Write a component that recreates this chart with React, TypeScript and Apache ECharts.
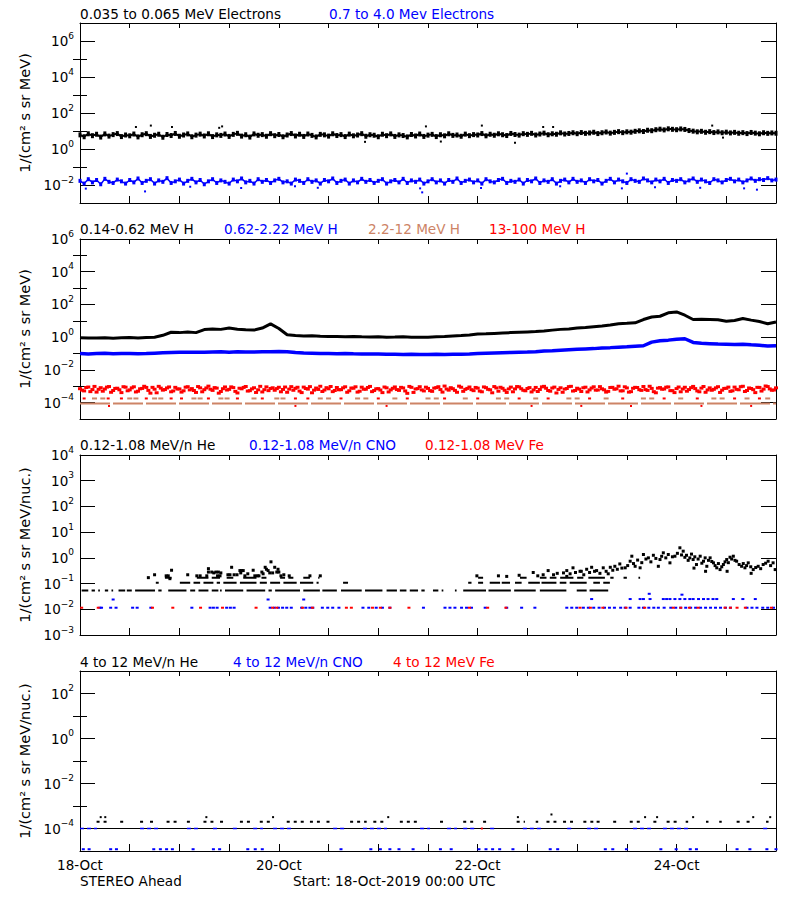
import React, { useEffect, useRef } from 'react';
import * as echarts from 'echarts';

const FONT = 'DejaVu Sans';
const BLACK = '#000000';
const BLUE = '#0000ff';
const RED = '#ff0000';
const BROWN = '#cd8466';

// ---------- x axis (hours since 18-Oct-2019 00:00 UTC) ----------
const xTickHours = [0, 48, 96, 144];
const xTickLabels = ['18-Oct', '20-Oct', '22-Oct', '24-Oct'];

// ---------- Panel 1: electrons (hourly) ----------
const elecLowFlux = [
  6.1, 4.8, 7.0, 5.5, 6.6, 4.6, 6.9, 5.2, 6.3, 7.2, 4.9, 6.0,
  5.4, 6.8, 4.7, 6.2, 7.1, 5.0, 5.8, 6.6, 4.5, 6.4, 5.6, 7.3,
  5.1, 6.0, 6.9, 4.8, 5.9, 6.7, 5.3, 7.0, 4.9, 6.1, 5.7, 6.8,
  5.0, 6.5, 7.4, 5.2, 6.2, 4.6, 6.9, 5.8, 6.3, 5.1, 7.1, 5.5,
  6.4, 4.8, 6.0, 7.2, 5.3, 6.6, 5.0, 6.8, 5.7, 4.7, 6.5, 6.1,
  5.2, 7.0, 5.6, 6.3, 4.9, 6.7, 5.4, 6.0, 7.1, 5.1, 6.2, 5.8,
  4.8, 6.6, 5.5, 6.9, 5.0, 6.1, 5.6, 4.7, 6.4, 5.3, 6.8, 5.0,
  5.9, 6.5, 4.9, 6.2, 5.4, 7.0, 5.7, 6.0, 5.1, 6.7, 5.5, 6.3,
  6.0, 7.2, 5.4, 6.6, 5.8, 7.0, 6.2, 5.6, 7.3, 6.4, 5.9, 7.1,
  6.5, 7.4, 6.0, 6.8, 7.6, 6.2, 7.0, 6.6, 7.9, 6.8, 7.3, 8.0,
  7.1, 8.2, 7.4, 7.8, 8.5, 7.2, 8.0, 8.8, 7.6, 8.4, 9.2, 8.1,
  9.0, 8.6, 9.6, 10.2, 9.4, 11.0, 10.4, 11.8, 12.6, 11.5, 13.2, 12.4,
  11.8, 13.0, 12.2, 10.6, 9.8, 9.0, 9.6, 8.5, 9.2, 8.2, 8.9, 8.0,
  8.6, 7.8, 8.4, 7.5, 8.1, 7.2, 8.3, 7.6, 7.0, 8.0, 7.4, 7.8,
  7.5,
];
const elecHighFlux = [
  0.017, 0.012, 0.021, 0.014, 0.019, 0.011, 0.022, 0.015, 0.013, 0.020, 0.016, 0.012,
  0.019, 0.014, 0.023, 0.013, 0.017, 0.021, 0.012, 0.018, 0.015, 0.024, 0.013, 0.016,
  0.020, 0.012, 0.017, 0.022, 0.014, 0.019, 0.011, 0.016, 0.021, 0.013, 0.018, 0.015,
  0.012, 0.020, 0.016, 0.023, 0.014, 0.017, 0.012, 0.021, 0.015, 0.019, 0.013, 0.018,
  0.022, 0.014, 0.016, 0.012, 0.020, 0.017, 0.013, 0.021, 0.015, 0.018, 0.012, 0.019,
  0.016, 0.023, 0.013, 0.017, 0.020, 0.012, 0.018, 0.014, 0.022, 0.015, 0.019, 0.013,
  0.017, 0.021, 0.012, 0.016, 0.019, 0.014, 0.022, 0.013, 0.018, 0.015, 0.020, 0.012,
  0.016, 0.021, 0.014, 0.018, 0.012, 0.019, 0.015, 0.023, 0.013, 0.017, 0.020, 0.014,
  0.018, 0.012, 0.021, 0.016, 0.014, 0.019, 0.022, 0.013, 0.017, 0.015, 0.020, 0.012,
  0.019, 0.016, 0.023, 0.013, 0.018, 0.015, 0.021, 0.012, 0.017, 0.020, 0.014, 0.022,
  0.015, 0.018, 0.013, 0.021, 0.016, 0.019, 0.012, 0.017, 0.022, 0.014, 0.020, 0.016,
  0.013, 0.021, 0.017, 0.015, 0.023, 0.018, 0.014, 0.020, 0.016, 0.022, 0.013, 0.019,
  0.017, 0.021, 0.014, 0.018, 0.023, 0.015, 0.020, 0.016, 0.013, 0.021, 0.018, 0.014,
  0.019, 0.022, 0.016, 0.020, 0.014, 0.018, 0.023, 0.017, 0.021, 0.019, 0.024, 0.018,
  0.020,
];
const elecLowOutHours = [13.5, 17.1, 22.2, 33.6, 34.3, 68.8, 83.5, 87.1, 97, 105, 111.8, 114.2, 152.6, 155.2];
const elecLowOutFlux = [16.7, 20, 16.7, 15, 18, 2.5, 18, 2.6, 20, 2.2, 16.7, 16.7, 20, 4.3];
const elecHighOutHours = [1.4, 15.7, 26.6, 38.9, 51.9, 57.4, 82.1, 82.6, 96.8, 115.9, 130.8, 132, 138.8, 149.7, 160.3, 163.4];
const elecHighOutFlux = [0.0063, 0.0044, 0.008, 0.0068, 0.0085, 0.007, 0.0065, 0.0039, 0.0068, 0.0085, 0.0065, 0.043, 0.0075, 0.007, 0.0065, 0.0055];

// ---------- Panel 2: protons ----------
// 2-hourly
const hLowFlux = [
  0.92, 0.88, 0.90, 0.93, 0.87, 0.91, 0.95, 0.90, 0.97, 1.0,
  1.3, 2.0, 1.9, 2.1, 1.9, 2.9, 3.2, 3.0, 3.6, 3.1,
  2.8, 2.7, 3.6, 6.5, 3.4, 1.4, 1.25, 1.2, 1.22, 1.15,
  1.12, 1.1, 1.08, 1.1, 1.05, 1.02, 1.05, 1.0, 1.02, 1.05,
  1.0, 0.98, 1.0, 1.05, 1.1, 1.2, 1.25, 1.35, 1.55, 1.6,
  1.7, 1.8, 1.9, 2.0, 2.1, 2.2, 2.4, 2.7, 3.0, 3.2,
  3.6, 3.9, 4.4, 4.9, 5.5, 6.6, 7.0, 7.5, 12, 17,
  19, 31, 35, 22, 12, 12.5, 12, 11.5, 9.5, 10.5,
  13.8, 11, 9, 6.6, 8.5,
];
const hMidFlux = [
  0.100, 0.095, 0.100, 0.105, 0.098, 0.100, 0.102, 0.097, 0.100, 0.105,
  0.110, 0.115, 0.120, 0.118, 0.122, 0.120, 0.125, 0.128, 0.122, 0.130,
  0.126, 0.124, 0.128, 0.130, 0.132, 0.128, 0.115, 0.108, 0.105, 0.100,
  0.102, 0.098, 0.100, 0.097, 0.095, 0.093, 0.095, 0.092, 0.090, 0.088,
  0.090, 0.088, 0.087, 0.089, 0.088, 0.090, 0.092, 0.095, 0.100, 0.104,
  0.108, 0.112, 0.115, 0.120, 0.124, 0.130, 0.145, 0.150, 0.160, 0.170,
  0.180, 0.190, 0.200, 0.220, 0.230, 0.245, 0.260, 0.280, 0.300, 0.500,
  0.600, 0.660, 0.750, 0.800, 0.480, 0.420, 0.400, 0.380, 0.370, 0.360,
  0.370, 0.340, 0.320, 0.290, 0.300,
];
// hourly (on the hour)
const hHighFlux = [
  7.1e-4, 5.2e-4, 9.0e-4, 6.3e-4, 4.4e-4, 8.2e-4, 6.8e-4, 9.6e-4, 5.5e-4, 7.6e-4, 4.1e-4, 8.8e-4,
  6.0e-4, 9.3e-4, 5.0e-4, 7.4e-4, 8.5e-4, 3.8e-4, 6.6e-4, 9.9e-4, 5.8e-4, 7.9e-4, 4.6e-4, 8.6e-4,
  6.9e-4, 5.3e-4, 9.4e-4, 7.2e-4, 4.2e-4, 8.0e-4, 6.2e-4, 1.02e-3, 5.6e-4, 7.7e-4, 4.8e-4, 9.1e-4,
  6.5e-4, 8.3e-4, 3.9e-4, 7.0e-4, 9.7e-4, 5.4e-4, 8.1e-4, 6.1e-4, 4.5e-4, 9.2e-4, 7.3e-4, 5.7e-4,
  8.7e-4, 6.4e-4, 4.3e-4, 9.5e-4, 7.5e-4, 5.1e-4, 8.9e-4, 6.7e-4, 4.0e-4, 7.8e-4, 1.0e-3, 5.9e-4,
  7.0e-4, 4.7e-4, 8.4e-4, 6.2e-4, 9.3e-4, 5.3e-4, 7.6e-4, 4.4e-4, 8.8e-4, 6.6e-4, 9.8e-4, 5.5e-4,
  7.2e-4, 4.1e-4, 8.0e-4, 6.0e-4, 9.1e-4, 5.6e-4, 7.9e-4, 3.7e-4, 8.6e-4, 6.8e-4, 9.4e-4, 5.2e-4,
  7.4e-4, 4.9e-4, 8.3e-4, 6.3e-4, 1.03e-3, 5.8e-4, 7.1e-4, 4.3e-4, 8.7e-4, 6.5e-4, 9.0e-4, 5.4e-4,
  7.7e-4, 4.6e-4, 8.2e-4, 6.1e-4, 9.6e-4, 5.0e-4, 7.5e-4, 4.2e-4, 8.9e-4, 6.9e-4, 9.2e-4, 5.7e-4,
  7.3e-4, 4.5e-4, 8.5e-4, 6.4e-4, 9.9e-4, 5.5e-4, 7.8e-4, 3.9e-4, 8.1e-4, 6.7e-4, 9.5e-4, 5.1e-4,
  7.6e-4, 4.8e-4, 8.8e-4, 6.0e-4, 9.3e-4, 5.9e-4, 7.0e-4, 4.4e-4, 8.4e-4, 6.6e-4, 1.01e-3, 5.3e-4,
  7.9e-4, 4.7e-4, 8.6e-4, 6.2e-4, 9.7e-4, 5.6e-4, 7.4e-4, 4.0e-4, 8.3e-4, 6.8e-4, 9.1e-4, 5.4e-4,
  7.2e-4, 4.6e-4, 8.7e-4, 6.3e-4, 9.8e-4, 5.2e-4, 7.7e-4, 4.3e-4, 8.0e-4, 6.5e-4, 9.4e-4, 5.8e-4,
  7.5e-4, 4.9e-4, 8.9e-4, 6.1e-4, 1.0e-3, 5.5e-4, 7.3e-4, 4.1e-4, 8.5e-4, 6.7e-4, 9.6e-4, 5.7e-4,
  8.0e-4,
];
// hourly (on the half hour)
const hHighFluxHalf = [
  5.8e-4, 8.4e-4, 4.7e-4, 9.8e-4, 6.5e-4, 5.0e-4, 8.9e-4, 4.3e-4, 7.4e-4, 6.1e-4, 9.4e-4, 5.3e-4,
  8.0e-4, 4.5e-4, 7.0e-4, 1.0e-3, 5.6e-4, 8.6e-4, 4.0e-4, 7.7e-4, 6.3e-4, 9.1e-4, 5.2e-4, 6.8e-4,
  4.4e-4, 8.8e-4, 6.0e-4, 5.5e-4, 9.6e-4, 4.6e-4, 7.9e-4, 6.6e-4, 8.3e-4, 3.8e-4, 7.1e-4, 5.9e-4,
  9.2e-4, 4.9e-4, 7.6e-4, 8.5e-4, 5.1e-4, 6.9e-4, 4.2e-4, 9.9e-4, 6.2e-4, 5.4e-4, 8.1e-4, 7.2e-4,
  4.6e-4, 9.0e-4, 6.7e-4, 5.7e-4, 8.7e-4, 4.1e-4, 7.3e-4, 9.5e-4, 5.8e-4, 6.4e-4, 4.8e-4, 8.2e-4,
  9.7e-4, 5.5e-4, 6.1e-4, 8.0e-4, 4.3e-4, 7.8e-4, 9.3e-4, 5.0e-4, 6.6e-4, 8.4e-4, 4.7e-4, 7.0e-4,
  5.9e-4, 9.0e-4, 4.5e-4, 7.5e-4, 6.3e-4, 8.6e-4, 5.2e-4, 9.8e-4, 4.2e-4, 7.2e-4, 6.0e-4, 8.8e-4,
  5.4e-4, 7.7e-4, 9.4e-4, 4.4e-4, 6.8e-4, 8.2e-4, 5.6e-4, 1.02e-3, 4.9e-4, 7.4e-4, 6.2e-4, 8.5e-4,
  5.1e-4, 9.1e-4, 6.5e-4, 4.0e-4, 7.9e-4, 8.7e-4, 5.7e-4, 6.9e-4, 4.6e-4, 9.6e-4, 7.1e-4, 5.3e-4,
  8.3e-4, 6.0e-4, 4.8e-4, 9.2e-4, 7.6e-4, 5.0e-4, 8.9e-4, 6.4e-4, 4.3e-4, 7.3e-4, 9.9e-4, 5.5e-4,
  6.7e-4, 8.1e-4, 4.5e-4, 7.8e-4, 5.8e-4, 9.5e-4, 6.1e-4, 4.9e-4, 8.6e-4, 7.0e-4, 5.2e-4, 9.3e-4,
  4.4e-4, 7.5e-4, 8.4e-4, 5.6e-4, 6.3e-4, 1.0e-3, 4.7e-4, 7.7e-4, 6.6e-4, 8.8e-4, 5.4e-4, 4.1e-4,
  9.0e-4, 6.8e-4, 5.0e-4, 8.2e-4, 7.2e-4, 4.6e-4, 9.7e-4, 6.0e-4, 5.7e-4, 8.0e-4, 4.2e-4, 7.4e-4,
  8.9e-4, 5.3e-4, 6.5e-4, 9.4e-4, 4.8e-4, 7.9e-4, 6.2e-4, 8.6e-4, 5.1e-4, 1.04e-3, 6.9e-4, 5.9e-4,
];
const hVeryHighLevel = 8.9e-5; // 2.2-12 MeV H main count level
const hVeryHighSegs = [[0, 168]];
const hMidRowLevel = 1.8e-4;
const brownMidHours = [3.5, 5.5, 12, 13.5, 18, 19.5, 27.5, 29, 34, 35.5, 42, 47.5, 49, 58, 60, 67, 69, 76, 84, 86, 93, 101, 103, 110, 118, 120, 127, 136, 138, 145, 153, 155, 161, 166];
const redMidHours = [1, 6.8, 10, 16, 22, 24.5, 31, 38, 44, 52, 55, 63, 72, 79, 88, 96, 106, 113, 123, 131, 141, 149, 158, 164];
const redLowLevel = 6.3e-5;
const redLowHours = [7, 52, 74, 109, 121, 133, 150, 162];

// ---------- Panel 3: 0.12-1.08 MeV/n ions ----------
const heBaseLevel = 0.054;
const heBaseSegs = [[0.4, 2.0], [2.8, 3.6], [4.4, 4.8], [6.0, 6.8], [7.6, 8.0], [9.3, 10.9], [11.3, 12.5], [13.3, 18.1], [18.9, 19.7], [21.3, 25.7], [26.6, 27.8], [28.6, 31.0], [31.8, 33.4], [33.8, 34.2], [35.0, 39.4], [40.2, 44.7], [45.5, 46.3], [47.1, 53.1], [53.9, 57.9], [58.5, 62.0], [63.0, 68.0], [68.8, 73.0], [74.0, 76.5], [77.2, 78.8], [79.6, 81.6], [82.4, 83.2], [85.2, 86.5], [87.3, 87.7], [90.5, 90.9], [92.5, 98.0], [98.6, 104.0], [104.8, 110.0], [111.0, 117.4], [119.9, 122.3], [123.0, 127.5]];
const heRow2Level = 0.108;
const heRow2Segs = [[18.3, 19.0], [24.1, 26.6], [27.4, 29.0], [29.8, 32.2], [33.0, 33.8], [34.6, 37.8], [38.6, 42.6], [43.4, 45.1], [45.9, 48.3], [49.1, 52.3], [53.1, 56.3], [57.1, 57.6], [63.5, 64.7], [93.7, 94.5], [96.1, 97.3], [98.9, 101.4], [101.8, 103.8], [105.0, 106.6], [108.2, 111.0], [111.4, 115.0], [115.8, 117.4], [118.2, 122.3], [123.9, 125.5], [126.3, 127.9]];
const heRow3Level = 0.17;
const heRow3Segs = [[20.5, 22.1], [28.2, 31.0], [31.8, 33.8], [35.4, 37.0], [39.4, 42.6], [43.8, 45.0], [48.3, 49.5], [50.3, 51.5], [53.9, 55.5], [57.5, 57.8], [96.1, 97.3], [106.2, 107.8], [111.0, 112.6], [113.4, 115.0], [115.9, 119.1], [120.0, 121.5], [122.7, 126.7], [128.0, 128.8], [131.2, 132.0], [134.8, 135.2]];
const heCloudHours = [
  16.5, 18.0, 20.8, 21.3, 21.7, 22.1, 26.0, 28.2, 29.0, 30.6, 31.0, 31.0, 31.8, 32.3, 32.8, 33.2, 33.4, 33.8, 34.0,
  35.7, 36.2, 36.6, 37.2, 37.9, 38.6, 38.8, 39.0, 39.4, 39.8, 40.5, 41.8, 42.2, 42.8, 43.2, 43.9, 44.2, 44.7, 45.0,
  45.4, 45.8, 46.1, 46.5, 47.0, 47.5, 47.8, 48.0, 48.5, 49.2, 50.5, 55.5, 58.0,
  95.8, 101, 103, 106, 109.4, 110.5, 111.8, 113, 114.3, 115.2, 116.7, 117.5, 117.5, 118.3, 119, 119.6, 120.7, 121,
  121.6, 122.3, 123, 123.5, 124.2, 124.7, 125.5, 126.3, 127, 127.5, 128, 128.6, 129.1, 129.7, 130.3, 130.8, 131.6,
  132.2, 132.8, 133.2, 133.6, 134, 134.6, 135.2, 135.6, 136, 136.6, 137.2, 137.8, 138.4, 139, 139.6, 140, 140.4,
  140.8, 141.4, 142, 142.4, 143, 143.6, 144.2, 144.8, 145.2, 145.6, 146, 146.4, 146.8, 147.2, 147.6, 148, 148.4,
  148.8, 149.2, 149.7, 150.1, 150.5, 150.9, 151.3, 151.7, 152.1, 152.5, 152.9, 153.3, 153.7, 154.1, 154.5, 154.9,
  155.3, 155.7, 156.1, 156.5, 156.9, 157.3, 157.7, 158.1, 158.5, 159.1, 159.7, 160.1, 160.5, 160.9, 161.3, 161.9,
  162.5, 163.1, 163.7, 164.3, 164.9, 165.5, 166.1, 166.7, 167.3, 167.8, 156.2, 151, 148.2, 162,
];
const heCloudFlux = [
  0.17, 0.22, 0.2, 0.2, 0.155, 0.33, 0.22, 0.2, 0.2, 0.2, 0.38, 0.28, 0.28, 0.26, 0.28, 0.2, 0.28, 0.2, 0.26,
  0.22, 0.22, 0.43, 0.22, 0.22, 0.32, 0.26, 0.32, 0.32, 0.2, 0.24, 0.33, 0.2, 0.2, 0.2, 0.28, 0.24, 0.43, 0.36,
  0.32, 0.26, 0.7, 0.26, 0.43, 0.28, 0.36, 0.28, 0.2, 0.22, 0.2, 0.2, 0.2,
  0.2, 0.2, 0.19, 0.21, 0.27, 0.2, 0.22, 0.32, 0.22, 0.25, 0.26, 0.32, 0.19, 0.24, 0.41, 0.27, 0.3, 0.3,
  0.22, 0.36, 0.27, 0.43, 0.3, 0.32, 0.25, 0.41, 0.3, 0.24, 0.43, 0.33, 0.47, 0.36, 0.58, 0.4, 0.41,
  0.5, 0.74, 1.16, 0.6, 0.47, 0.82, 0.41, 0.65, 1.35, 0.9, 1.0, 0.7, 1.26, 0.95, 0.47, 0.86, 1.15,
  1.57, 1.0, 1.35, 0.64, 1.1, 1.16, 1.5, 2.46, 1.3, 1.82, 1.05, 1.26, 0.8, 1.0, 1.4, 0.86, 1.1,
  0.55, 0.9, 1.16, 0.62, 0.74, 1.0, 0.47, 0.8, 1.0, 0.72, 0.64, 0.5, 0.41, 0.6, 0.35, 0.45,
  0.55, 0.7, 0.86, 0.65, 1.06, 0.9, 1.16, 0.8, 0.74, 0.55, 0.47, 0.6, 0.41, 0.5, 0.64, 0.45,
  0.35, 0.42, 0.47, 0.38, 0.55, 0.62, 0.74, 0.5, 0.64, 0.35, 0.3, 0.3, 0.4, 0.25,
];
const cnoRowLevel = 0.0115;
const cnoRowHours = [
  4.8, 5.2, 7.4, 8.7, 12.7, 13.8, 17.1, 27, 31.4, 32.2, 33.1, 35.4, 36.3, 37.2, 45.9, 46.9, 47.9, 48.9, 49.9, 51,
  53.5, 54.5, 55.5, 56.2, 58.5, 59.8, 61, 62.5, 68.3, 69.7, 71.5, 73, 74.8, 82.9, 88.1, 89.3, 90.5, 92.1, 93.3, 94.5,
  97.8, 103, 106.6, 109.8, 117.5, 118.7, 119.9, 121.5, 122.7, 124, 125.3, 126.6, 127.8, 129, 130.5, 131.6, 132.8,
  134.9, 136, 137.3, 138.5, 139.6, 141, 142.6, 143.8, 145, 146.2, 147.4, 148.6, 149.8, 151, 152.2, 153.4, 154.6,
  155.8, 157, 161, 162.2, 163.4, 164.8, 166, 167.4,
];
const feRowHours = [0.4, 4.4, 17.5, 22.4, 29.1, 34.4, 42.5, 46.5, 47.5, 53.7, 56.1, 64.3, 65.5, 70.6, 72.5, 74.8, 79.4, 94, 98.4, 102.8, 120.7, 123.2, 126.2, 131.8, 136.3, 143.2, 145, 147.1, 149.2, 155.7, 157, 158.6, 160.6, 166.9];
const cnoUpperHours = [8, 45.4, 54, 123.5, 132.8, 135.2, 136, 137.6, 140.8, 141.6, 142.4, 143.6, 144.8, 146, 147.2, 148, 149.3, 150.5, 151.6, 152.8, 153.7, 157.7, 160, 163, 137.4, 145.3];
const cnoUpperFlux = [0.024, 0.024, 0.024, 0.025, 0.025, 0.025, 0.025, 0.025, 0.025, 0.025, 0.025, 0.025, 0.025, 0.025, 0.025, 0.025, 0.025, 0.025, 0.025, 0.025, 0.025, 0.025, 0.025, 0.025, 0.04, 0.037];

// ---------- Panel 4: 4-12 MeV/n ions ----------
const hiLineLevel = 1e-4;
const hiHeLineSegs = [[0, 164.5]];
const hiCnoLineSegs = [[0, 4.1], [14.5, 19.3], [25.8, 29], [32.1, 33.8], [36.9, 38.6], [41.8, 44.2], [46.6, 51.4], [61.1, 64.5], [68.3, 74.1], [82.1, 84.5], [88.6, 91], [92.5, 95.8], [99, 100.7], [106.9, 111.8], [117.6, 119], [122.4, 125.5], [133.5, 138.3], [140.7, 147.2], [164.9, 166.6]];
const hiHeDotLevel = 2e-4;
const hiHeDotSegs = [[4, 7.2], [9.7, 11.3], [14.5, 16.1], [16.9, 18.5], [20.9, 24.1], [25.8, 27.4], [29.8, 32.2], [33.8, 35.4], [38.6, 41.8], [43.4, 46.7], [49.9, 54.7], [55.5, 57.9], [59.5, 61.1], [65.2, 69.2], [70.8, 74], [77.2, 82], [86.9, 88.5], [92.5, 94.9], [97.3, 98.9], [105.4, 107.4], [110, 110.6], [112.6, 115], [116.6, 119], [121.5, 123.9], [124.7, 126.3], [128.7, 130.3], [132.7, 135.2], [138.4, 140], [141.6, 144.8], [146.2, 146.8], [151.1, 151.7], [154.3, 154.9], [158.5, 160.1], [160.9, 162.5], [165.6, 166.2]];
const hiHeUpperHours = [5, 6.1, 30.5, 46.6, 74.4, 105.7, 113.8, 136.4, 139.3, 148, 162.5, 166.6];
const hiHeUpperFlux = [3.2e-4, 3.2e-4, 3.2e-4, 3.2e-4, 3.2e-4, 3.2e-4, 4.2e-4, 3.2e-4, 3.2e-4, 3.2e-4, 3.2e-4, 3.2e-4];
const hiCnoLowLevel = 1.2e-5;
const hiCnoLowHours = [0.8, 2.2, 7.4, 8.8, 17.8, 19.4, 20.9, 22.3, 27.3, 32.2, 33.7, 40.5, 42.3, 44, 63, 70.2, 72.5, 74.8, 77, 80.4, 87, 89.6, 96.3, 98, 99.6, 101.3, 104.5, 113.5, 115.3, 126.8, 128.6, 131.9, 140.2, 143.9, 147.3, 148.8, 158.6, 161.7, 165.8, 168];
const hiFeHours = [97];

// ---------- panel layout ----------
const panelTops = [23, 239, 455, 671];
const yRanges = [[-3, 7], [-5, 6], [-3, 4], [-5, 3]];
const majorExp = [[-2, 0, 2, 4, 6], [-4, -2, 0, 2, 4, 6], [-3, -2, -1, 0, 1, 2, 3, 4], [-4, -2, 0, 2]];
const minorExp = [[-1, 1, 3, 5], [-3, -1, 1, 3, 5], [], [-3, -1, 1]];
const yNames = ['1/(cm² s sr MeV)', '1/(cm² s sr MeV)', '1/(cm² s sr MeV/nuc.)', '1/(cm² s sr MeV/nuc.)'];

const titles = [
  { x: 80, y: 14, text: '0.035 to 0.065 MeV Electrons', color: BLACK },
  { x: 329, y: 14, text: '0.7 to 4.0 Mev Electrons', color: BLUE },
  { x: 80, y: 229, text: '0.14-0.62 MeV H', color: BLACK },
  { x: 224, y: 229, text: '0.62-2.22 MeV H', color: BLUE },
  { x: 368, y: 229, text: '2.2-12 MeV H', color: BROWN },
  { x: 489, y: 229, text: '13-100 MeV H', color: RED },
  { x: 80, y: 445, text: '0.12-1.08 MeV/n He', color: BLACK },
  { x: 249, y: 445, text: '0.12-1.08 MeV/n CNO', color: BLUE },
  { x: 425, y: 445, text: '0.12-1.08 MeV Fe', color: RED },
  { x: 80, y: 661.5, text: '4 to 12 MeV/n He', color: BLACK },
  { x: 233, y: 661.5, text: '4 to 12 MeV/n CNO', color: BLUE },
  { x: 393, y: 661.5, text: '4 to 12 MeV Fe', color: RED },
  { x: 80, y: 881, text: 'STEREO Ahead', color: BLACK },
  { x: 293, y: 881, text: 'Start: 18-Oct-2019 00:00 UTC', color: BLACK },
];

// ---------- helpers ----------
const lg = (v: number) => Math.log10(v);
const stepData = (arr: number[], step: number, offset = 0) => arr.map((v, i) => [offset + i * step, lg(v)]);
const pairData = (hours: number[], vals: number[]) => hours.map((h, i) => [h, lg(vals[i])]);
const rowData = (hours: number[], v: number) => hours.map((h) => [h, lg(v)]);
const segData = (segs: number[][], v: number) =>
  segs.flatMap(([a, b]) => [[a, lg(v)], [b, lg(v)], [b, null]]);

const expText = (v: number) => (v < 0 ? '−' + Math.abs(v) : String(v));

function lineS(g: number, data: any[], color: string, width: number, type: any = 'solid', z = 2) {
  return {
    type: 'line', xAxisIndex: 2 * g, yAxisIndex: 4 * g, data, symbol: 'none', showSymbol: false,
    connectNulls: false, silent: true, z, lineStyle: { color, width, type, opacity: 1 },
  };
}
function dotS(g: number, data: any[], color: string, size: any, z = 3) {
  return {
    type: 'scatter', xAxisIndex: 2 * g, yAxisIndex: 4 * g, data, symbol: 'rect', symbolSize: size,
    silent: true, z, itemStyle: { color, opacity: 1 },
  };
}

function buildOption() {
  const grid = panelTops.map((top) => ({ left: 80, top, width: 696, height: 180 }));
  const xAxis: any[] = [];
  const yAxis: any[] = [];
  panelTops.forEach((_, g) => {
    const axLine = { show: true, onZero: false, lineStyle: { color: BLACK, width: 1 } };
    xAxis.push({
      gridIndex: g, type: 'value', min: 0, max: 168, interval: 12, position: 'bottom',
      axisLine: axLine, splitLine: { show: false },
      axisTick: { show: true, inside: true, length: 7, lineStyle: { color: BLACK } },
      axisLabel: g === 3
        ? {
            show: true, customValues: xTickHours, margin: 7, color: BLACK, fontSize: 13.5, fontFamily: FONT,
            formatter: (v: number) => xTickLabels[xTickHours.indexOf(v)] ?? '',
          }
        : { show: false },
    });
    xAxis.push({
      gridIndex: g, type: 'value', min: 0, max: 168, interval: 12, position: 'top',
      axisLine: axLine, splitLine: { show: false },
      axisTick: { show: true, inside: true, length: 5, lineStyle: { color: BLACK } },
      axisLabel: { show: false },
    });
    const [mn, mx] = yRanges[g];
    const major = majorExp[g];
    const minor = minorExp[g];
    yAxis.push({
      gridIndex: g, type: 'value', min: mn, max: mx, position: 'left',
      axisLine: axLine, splitLine: { show: false },
      axisTick: { show: true, inside: true, length: 15, customValues: major, lineStyle: { color: BLACK } },
      axisLabel: {
        show: true, customValues: major, margin: 6,
        formatter: (v: number) => `{b|10}{s|${expText(v)}}`,
        rich: {
          b: { fontSize: 13.5, fontFamily: FONT, color: BLACK, padding: [3, 0, 3, 0] },
          s: { fontSize: 9, fontFamily: FONT, color: BLACK, verticalAlign: 'top' },
        },
      },
      name: yNames[g], nameLocation: 'middle', nameGap: 41, nameRotate: 90,
      nameTextStyle: { color: BLACK, fontSize: 14.5, fontFamily: FONT },
    });
    yAxis.push({
      gridIndex: g, type: 'value', min: mn, max: mx, position: 'left',
      axisLine: { show: false }, splitLine: { show: false }, axisLabel: { show: false },
      axisTick: minor.length
        ? { show: true, inside: true, length: 7, customValues: minor, lineStyle: { color: BLACK } }
        : { show: false },
    });
    yAxis.push({
      gridIndex: g, type: 'value', min: mn, max: mx, position: 'right',
      axisLine: axLine, splitLine: { show: false }, axisLabel: { show: false },
      axisTick: { show: true, inside: true, length: 15, customValues: major, lineStyle: { color: BLACK } },
    });
    yAxis.push({
      gridIndex: g, type: 'value', min: mn, max: mx, position: 'right',
      axisLine: { show: false }, splitLine: { show: false }, axisLabel: { show: false },
      axisTick: minor.length
        ? { show: true, inside: true, length: 7, customValues: minor, lineStyle: { color: BLACK } }
        : { show: false },
    });
  });

  const elecLow = stepData(elecLowFlux, 1);
  const elecHigh = stepData(elecHighFlux, 1);

  const series: any[] = [
    // panel 1
    lineS(0, elecLow, BLACK, 2),
    dotS(0, elecLow, BLACK, [3, 5]),
    dotS(0, pairData(elecLowOutHours, elecLowOutFlux), BLACK, [2, 2]),
    lineS(0, elecHigh, BLUE, 1.5),
    dotS(0, elecHigh, BLUE, [3, 4]),
    dotS(0, pairData(elecHighOutHours, elecHighOutFlux), BLUE, [2, 2]),
    // panel 2
    lineS(1, segData(hVeryHighSegs, hVeryHighLevel), BROWN, 2, [30, 3]),
    dotS(1, rowData(brownMidHours, hMidRowLevel), BROWN, [5, 2]),
    dotS(1, rowData(redMidHours, hMidRowLevel), RED, [3, 2]),
    dotS(1, rowData(redLowHours, redLowLevel), RED, [2, 2]),
    dotS(1, stepData(hHighFlux, 1), RED, [4, 3]),
    dotS(1, stepData(hHighFluxHalf, 1, 0.5), RED, [4, 3]),
    lineS(1, stepData(hMidFlux, 2), BLUE, 3.5),
    lineS(1, stepData(hLowFlux, 2), BLACK, 3),
    // panel 3
    lineS(2, segData(heBaseSegs, heBaseLevel), BLACK, 2),
    lineS(2, segData(heRow2Segs, heRow2Level), BLACK, 2),
    lineS(2, segData(heRow3Segs, heRow3Level), BLACK, 2),
    dotS(2, pairData(heCloudHours, heCloudFlux), BLACK, [3, 3]),
    dotS(2, rowData(cnoRowHours, cnoRowLevel), BLUE, [3, 2]),
    dotS(2, rowData(feRowHours, cnoRowLevel), RED, [3, 2], 4),
    dotS(2, pairData(cnoUpperHours, cnoUpperFlux), BLUE, [3, 2]),
    // panel 4
    lineS(3, segData(hiHeLineSegs, hiLineLevel), BLACK, 1),
    lineS(3, segData(hiCnoLineSegs, hiLineLevel), BLUE, 1.5, [4, 3], 3),
    lineS(3, segData(hiHeDotSegs, hiHeDotLevel), BLACK, 2, [3, 4]),
    dotS(3, pairData(hiHeUpperHours, hiHeUpperFlux), BLACK, [2, 2]),
    dotS(3, rowData(hiCnoLowHours, hiCnoLowLevel), BLUE, [3, 2]),
    dotS(3, rowData(hiFeHours, hiLineLevel), RED, [2, 2], 4),
  ];

  const graphic = titles.map((t) => ({
    type: 'text', x: t.x, y: t.y, silent: true,
    style: { text: t.text, fill: t.color, fontSize: 13.6, fontFamily: FONT, align: 'left', verticalAlign: 'middle' },
  }));

  return {
    animation: false,
    backgroundColor: '#ffffff',
    textStyle: { fontFamily: FONT },
    grid, xAxis, yAxis, series, graphic,
  };
}

export default function App() {
  const ref = useRef<HTMLDivElement>(null);
  useEffect(() => {
    if (!ref.current) return;
    const chart = echarts.init(ref.current, undefined, { renderer: 'svg' });
    chart.setOption(buildOption() as any);
    return () => chart.dispose();
  }, []);
  return (
    <div
      ref={ref}
      style={{ position: 'absolute', left: 0, top: 0, width: 800, height: 900, background: '#ffffff' }}
    />
  );
}
